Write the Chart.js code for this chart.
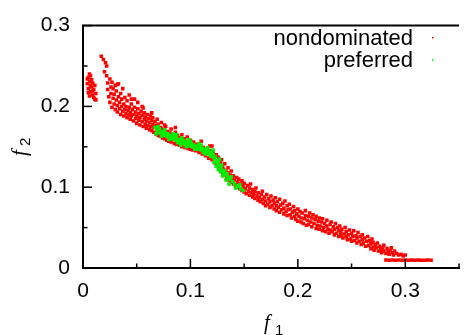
<!DOCTYPE html>
<html>
  <head>
    <meta charset="utf-8" />
    <title>nondominated vs preferred</title>
    <script src="https://cdn.jsdelivr.net/npm/chart.js"></script>
    <style>
      html, body { margin: 0; padding: 0; background: #fff; overflow: hidden; }
      #wrap { position: relative; width: 470px; height: 335px; }
    </style>
  </head>
  <body>
    <div id="wrap">
      <canvas id="paretoChart" width="470" height="335"></canvas>
    </div>
    <script type="text/javascript">
      var seriesLabels = ['nondominated', 'preferred']
      var xTicks = [0, 0.1, 0.2, 0.3]
      var yTicks = [0, 0.1, 0.2, 0.3]

      // red: the small cluster at the far left
      var redLeft = [
        [0.004,0.228],[0.005,0.236],[0.005,0.222],[0.006,0.231],[0.006,0.240],[0.007,0.226],[0.007,0.218],
        [0.008,0.233],[0.008,0.224],[0.009,0.214],[0.009,0.229],[0.010,0.221],[0.010,0.211],[0.011,0.226],
        [0.012,0.216],[0.006,0.213],[0.011,0.209],[0.004,0.234],[0.007,0.238],[0.009,0.219],[0.012,0.208],
        [0.005,0.217]
      ]

      // red: upper part of the front, f1 up to about 0.12
      var redUpper = [
        [0.017,0.262],[0.019,0.258],[0.021,0.254],[0.022,0.250],[0.020,0.243],
        [0.022,0.238],[0.023,0.229],[0.023,0.221],[0.024,0.212],[0.025,0.234],[0.025,0.205],[0.026,0.224],
        [0.026,0.216],[0.027,0.199],[0.027,0.230],
        [0.028,0.210],[0.028,0.222],[0.029,0.203],[0.029,0.215],[0.030,0.196],[0.030,0.226],[0.031,0.208],
        [0.031,0.219],[0.032,0.193],[0.032,0.201],[0.033,0.212],[0.033,0.228],
        [0.034,0.197],[0.034,0.205],[0.035,0.190],[0.035,0.216],[0.036,0.200],[0.036,0.209],[0.037,0.194],
        [0.037,0.222],[0.038,0.188],[0.038,0.203],[0.039,0.196],[0.039,0.211],[0.040,0.191],[0.040,0.200],
        [0.041,0.186],[0.041,0.207],[0.042,0.195],[0.042,0.189],[0.043,0.199],[0.043,0.214],[0.044,0.184],
        [0.044,0.192],[0.045,0.203],[0.045,0.188],[0.046,0.196],[0.047,0.182],[0.047,0.190],[0.048,0.199],
        [0.048,0.209],
        [0.049,0.185],[0.049,0.193],[0.050,0.179],[0.050,0.188],[0.051,0.197],[0.051,0.205],[0.052,0.183],
        [0.052,0.191],[0.053,0.177],[0.053,0.186],[0.054,0.194],[0.055,0.181],[0.055,0.189],[0.056,0.175],
        [0.056,0.198],
        [0.057,0.184],[0.057,0.192],[0.058,0.178],[0.058,0.187],[0.059,0.173],[0.059,0.182],[0.060,0.190],
        [0.060,0.176],[0.061,0.185],[0.062,0.171],[0.062,0.180],[0.063,0.188],[0.063,0.175],[0.064,0.183],
        [0.064,0.170],
        [0.065,0.178],[0.065,0.186],[0.066,0.168],[0.066,0.174],[0.067,0.181],[0.068,0.166],[0.068,0.176],
        [0.069,0.171],[0.069,0.184],[0.070,0.164],[0.070,0.178],[0.071,0.169],[0.072,0.163],[0.072,0.174],
        [0.073,0.167],[0.073,0.180],[0.074,0.161],[0.074,0.172],[0.075,0.166],[0.076,0.160],[0.076,0.170],
        [0.077,0.175],[0.078,0.158],[0.078,0.165],[0.079,0.169],[0.080,0.157],[0.080,0.162],
        [0.081,0.167],[0.082,0.156],[0.082,0.172],[0.083,0.160],[0.084,0.165],[0.085,0.154],[0.085,0.161],
        [0.086,0.168],[0.087,0.153],[0.088,0.158],[0.088,0.164],[0.089,0.155],[0.090,0.152],[0.090,0.161],
        [0.091,0.157],[0.092,0.150],[0.092,0.165],[0.093,0.154],[0.094,0.160],[0.095,0.149],[0.096,0.156],
        [0.097,0.151],[0.097,0.162],[0.098,0.148],[0.099,0.154],[0.100,0.158],[0.100,0.147],
        [0.101,0.152],[0.102,0.146],[0.103,0.156],[0.104,0.150],[0.105,0.145],[0.106,0.153],[0.107,0.148],
        [0.108,0.143],[0.109,0.151],[0.110,0.146],[0.110,0.157],
        [0.111,0.141],[0.112,0.149],[0.113,0.144],[0.114,0.139],[0.115,0.147],[0.116,0.142],[0.117,0.136],
        [0.118,0.145],[0.119,0.140],[0.120,0.134],[0.120,0.151],
        [0.032,0.227],[0.045,0.209],[0.055,0.200],[0.064,0.192],[0.076,0.177],[0.086,0.174],[0.118,0.151]
      ]

      // red: the bend and the middle of the front
      var redMiddle = [
        [0.121,0.143],[0.122,0.137],[0.123,0.130],[0.124,0.140],[0.125,0.133],[0.125,0.126],[0.126,0.137],
        [0.127,0.124],[0.128,0.130],[0.128,0.121],[0.129,0.134],[0.130,0.118],[0.130,0.126],
        [0.131,0.122],[0.132,0.129],[0.132,0.115],[0.133,0.120],[0.134,0.112],[0.135,0.118],[0.135,0.124],
        [0.136,0.109],[0.137,0.115],[0.138,0.106],[0.138,0.120],[0.139,0.111],[0.140,0.104],[0.140,0.114],
        [0.141,0.109],[0.142,0.102],[0.143,0.112],[0.144,0.100],[0.144,0.106],[0.145,0.110],[0.146,0.098],
        [0.147,0.104],[0.148,0.096],[0.148,0.108],[0.149,0.101],[0.150,0.094],[0.150,0.105],
        [0.151,0.098],[0.152,0.092],[0.153,0.102],[0.154,0.095],[0.155,0.090],[0.155,0.099],[0.156,0.104],
        [0.157,0.093],[0.158,0.088],[0.158,0.097],[0.159,0.091],[0.160,0.086],[0.160,0.095],
        [0.161,0.099],[0.162,0.089],[0.163,0.084],[0.163,0.093],[0.164,0.087],[0.165,0.082],[0.166,0.091],
        [0.167,0.085],[0.167,0.095],[0.168,0.080],[0.169,0.088],[0.170,0.083],[0.170,0.077],
        [0.171,0.091],[0.172,0.079],[0.173,0.086],[0.174,0.075],[0.174,0.082],[0.175,0.089],[0.176,0.077],
        [0.177,0.084],[0.178,0.073],[0.178,0.080],[0.179,0.087],[0.180,0.071],[0.180,0.077],
        [0.181,0.082],[0.182,0.075],[0.183,0.069],[0.183,0.085],[0.184,0.078],[0.185,0.072],[0.186,0.080],
        [0.187,0.067],[0.187,0.074],[0.188,0.083],[0.189,0.070],[0.190,0.065],[0.190,0.077],
        [0.191,0.072],[0.192,0.079],[0.193,0.066],[0.193,0.073],[0.194,0.062],[0.195,0.069],[0.196,0.076],
        [0.197,0.064],[0.197,0.071],[0.198,0.060],[0.199,0.067],[0.200,0.073],[0.200,0.058]
      ]

      // red: lower part of the front and the flat tail
      var redLower = [
        [0.201,0.064],[0.202,0.070],[0.203,0.057],[0.203,0.062],[0.204,0.068],[0.205,0.055],[0.206,0.061],
        [0.207,0.071],[0.207,0.065],[0.208,0.053],[0.209,0.059],[0.210,0.064],[0.210,0.054],
        [0.211,0.068],[0.212,0.057],[0.213,0.062],[0.213,0.051],[0.214,0.066],[0.215,0.055],[0.216,0.060],
        [0.217,0.049],[0.217,0.064],[0.218,0.053],[0.219,0.058],[0.220,0.048],[0.220,0.062],
        [0.221,0.052],[0.222,0.057],[0.223,0.046],[0.223,0.061],[0.224,0.050],[0.225,0.055],[0.226,0.045],
        [0.227,0.059],[0.227,0.052],[0.228,0.048],[0.229,0.043],[0.230,0.054],[0.230,0.047],
        [0.231,0.057],[0.232,0.045],[0.233,0.051],[0.234,0.041],[0.234,0.048],[0.235,0.055],[0.236,0.043],
        [0.237,0.050],[0.238,0.039],[0.238,0.046],[0.239,0.052],[0.240,0.040],[0.240,0.044],
        [0.241,0.048],[0.242,0.037],[0.243,0.042],[0.244,0.050],[0.245,0.039],[0.245,0.045],[0.246,0.035],
        [0.247,0.041],[0.248,0.047],[0.249,0.036],[0.250,0.043],[0.250,0.033],
        [0.251,0.039],[0.252,0.046],[0.253,0.034],[0.254,0.040],[0.255,0.031],[0.255,0.037],[0.256,0.044],
        [0.257,0.033],[0.258,0.039],[0.259,0.029],[0.260,0.035],[0.260,0.041],
        [0.261,0.031],[0.262,0.037],[0.263,0.027],[0.264,0.033],[0.265,0.039],[0.266,0.028],[0.267,0.034],
        [0.268,0.024],[0.268,0.030],[0.269,0.036],[0.270,0.026],[0.270,0.032],
        [0.271,0.022],[0.272,0.029],[0.273,0.025],[0.274,0.031],[0.275,0.021],[0.276,0.027],[0.277,0.023],
        [0.278,0.019],[0.279,0.025],[0.280,0.021],[0.280,0.028],
        [0.282,0.018],[0.283,0.024],[0.284,0.020],[0.285,0.017],[0.286,0.022],[0.287,0.025],[0.288,0.019],
        [0.289,0.016],[0.290,0.021],
        [0.292,0.018],[0.294,0.016],[0.296,0.017],[0.298,0.015],[0.300,0.016],
        [0.282,0.010],[0.285,0.0095],[0.288,0.010],[0.291,0.0095],[0.294,0.010],[0.297,0.0095],[0.300,0.010],
        [0.303,0.0095],[0.306,0.010],[0.309,0.0095],[0.312,0.010],[0.315,0.0095],[0.318,0.0095],[0.321,0.010],
        [0.324,0.0095]
      ]

      // green: the preferred part of the front
      var greenPoints = [
        [0.067,0.174],[0.069,0.170],[0.071,0.172],[0.072,0.167],[0.074,0.169],[0.075,0.165],[0.077,0.167],
        [0.078,0.163],[0.079,0.166],[0.081,0.162],[0.082,0.164],[0.083,0.160],[0.085,0.162],[0.086,0.158],
        [0.087,0.161],[0.089,0.157],[0.090,0.159],[0.091,0.155],[0.093,0.158],[0.094,0.154],[0.095,0.156],
        [0.097,0.153],[0.098,0.155],[0.099,0.151],[0.101,0.154],[0.102,0.150],[0.103,0.152],[0.105,0.149],
        [0.106,0.151],[0.107,0.147],[0.109,0.150],[0.110,0.146],[0.111,0.148],[0.113,0.145],[0.114,0.147],
        [0.115,0.143],[0.117,0.145],[0.118,0.141],[0.119,0.143],[0.120,0.139],[0.121,0.141],[0.122,0.136],
        [0.123,0.138],[0.124,0.133],[0.125,0.130],[0.126,0.132],[0.127,0.127],[0.128,0.124],[0.129,0.127],
        [0.130,0.121],[0.131,0.118],[0.132,0.120],[0.133,0.115],[0.134,0.117],[0.135,0.112],[0.137,0.110],
        [0.139,0.107],[0.141,0.104],[0.144,0.101],[0.147,0.098],
        [0.068,0.166],[0.070,0.175],[0.073,0.163],[0.076,0.171],[0.080,0.159],[0.084,0.166],[0.088,0.155],
        [0.092,0.161],[0.096,0.150],[0.100,0.157],[0.104,0.147],[0.108,0.154],[0.112,0.143],[0.116,0.149],
        [0.119,0.138],[0.122,0.131],[0.124,0.126],[0.126,0.122],[0.128,0.119],[0.130,0.114],[0.133,0.109],
        [0.136,0.104],[0.138,0.113],[0.142,0.099],[0.127,0.135],[0.121,0.146],[0.110,0.152],[0.114,0.141],
        [0.098,0.159],[0.087,0.165],[0.091,0.152],[0.149,0.096],[0.146,0.103]
      ]

      function toXY(list) {
        return list.map(function(p) { return { x: p[0], y: p[1] } })
      }

      function isMajor(v, list) {
        return list.some(function(t) { return Math.abs(t - v) < 1e-9 })
      }

      // ticks inside the frame, top border, legend and f1/f2 labels
      var decorPlugin = {
        id: 'decor',
        afterDraw: function(chart) {
          var ctx = chart.ctx
          var area = chart.chartArea
          var xs = chart.scales.x
          var ys = chart.scales.y
          ctx.save()
          ctx.strokeStyle = '#000'
          ctx.lineWidth = 2
          ctx.beginPath()
          ctx.moveTo(area.left - 1, area.top)
          ctx.lineTo(area.right, area.top)
          ctx.stroke()

          ctx.lineWidth = 1.5
          xs.ticks.forEach(function(t) {
            var px = xs.getPixelForValue(t.value)
            var len = isMajor(t.value, xTicks) ? 9 : 4.5
            ctx.beginPath()
            ctx.moveTo(px, area.bottom)
            ctx.lineTo(px, area.bottom - len)
            ctx.stroke()
          })
          ys.ticks.forEach(function(t) {
            var py = ys.getPixelForValue(t.value)
            var len = isMajor(t.value, yTicks) ? 9 : 4.5
            ctx.beginPath()
            ctx.moveTo(area.left, py)
            ctx.lineTo(area.left + len, py)
            ctx.stroke()
          })

          // legend
          ctx.font = '22px "Liberation Sans", Arial, sans-serif'
          ctx.textAlign = 'right'
          ctx.textBaseline = 'alphabetic'
          chart.data.datasets.forEach(function(ds, i) {
            var base = 45 + i * 22
            ctx.fillStyle = '#000'
            ctx.fillText(ds.label, 413, base)
            ctx.fillStyle = ds.backgroundColor
            ctx.fillRect(432, base - 8, 1.5, 1.5)
          })

          // axis names
          ctx.fillStyle = '#000'
          ctx.textAlign = 'left'
          ctx.font = 'italic 21px "Liberation Serif", "DejaVu Serif", serif'
          ctx.fillText('f', 264, 329)
          ctx.font = '15px "Liberation Sans", Arial, sans-serif'
          ctx.fillText('1', 275, 335)

          ctx.translate(26, 156)
          ctx.rotate(-Math.PI / 2)
          ctx.font = 'italic 21px "Liberation Serif", "DejaVu Serif", serif'
          ctx.fillText('f', 0, 0)
          ctx.font = '15px "Liberation Sans", Arial, sans-serif'
          ctx.fillText('2', 10, 4)
          ctx.restore()
        }
      }

      var tickFont = { family: '"Liberation Sans", Arial, sans-serif', size: 21 }

      var ctx = document.getElementById('paretoChart').getContext('2d')
      new Chart(ctx, {
        type: 'scatter',
        data: {
          datasets: [{
            label: seriesLabels[0],
            data: toXY(redLeft.concat(redUpper, redMiddle, redLower)),
            backgroundColor: '#ff0000',
            pointStyle: 'rect',
            pointRadius: 2.5,
            pointHoverRadius: 2.5,
            borderWidth: 0,
            order: 1
          }, {
            label: seriesLabels[1],
            data: toXY(greenPoints),
            backgroundColor: '#00ee00',
            pointStyle: 'rect',
            pointRadius: 2.5,
            pointHoverRadius: 2.5,
            borderWidth: 0,
            order: 0
          }]
        },
        options: {
          responsive: false,
          animation: false,
          events: [],
          layout: { padding: { top: 17, right: 2, left: 0, bottom: 0 } },
          plugins: {
            legend: { display: false },
            tooltip: { enabled: false }
          },
          scales: {
            x: {
              type: 'linear',
              min: 0,
              max: 0.35,
              afterFit: function(scale) { scale.height = 67 },
              grid: { display: true, drawOnChartArea: false, drawTicks: false },
              border: { display: true, color: '#000', width: 2 },
              ticks: {
                stepSize: 0.05,
                autoSkip: false,
                maxRotation: 0,
                padding: 11,
                color: '#000',
                font: tickFont,
                callback: function(v) { return isMajor(v, xTicks) ? String(Math.round(v * 10) / 10) : '' }
              }
            },
            y: {
              type: 'linear',
              min: 0,
              max: 0.3,
              afterFit: function(scale) { scale.width = 83 },
              grid: { display: true, drawOnChartArea: false, drawTicks: false },
              border: { display: true, color: '#000', width: 2 },
              ticks: {
                stepSize: 0.05,
                autoSkip: false,
                padding: 13,
                color: '#000',
                font: tickFont,
                callback: function(v) { return isMajor(v, yTicks) ? String(Math.round(v * 10) / 10) : '' }
              }
            }
          }
        },
        plugins: [decorPlugin]
      })
    </script>
  </body>
</html>
